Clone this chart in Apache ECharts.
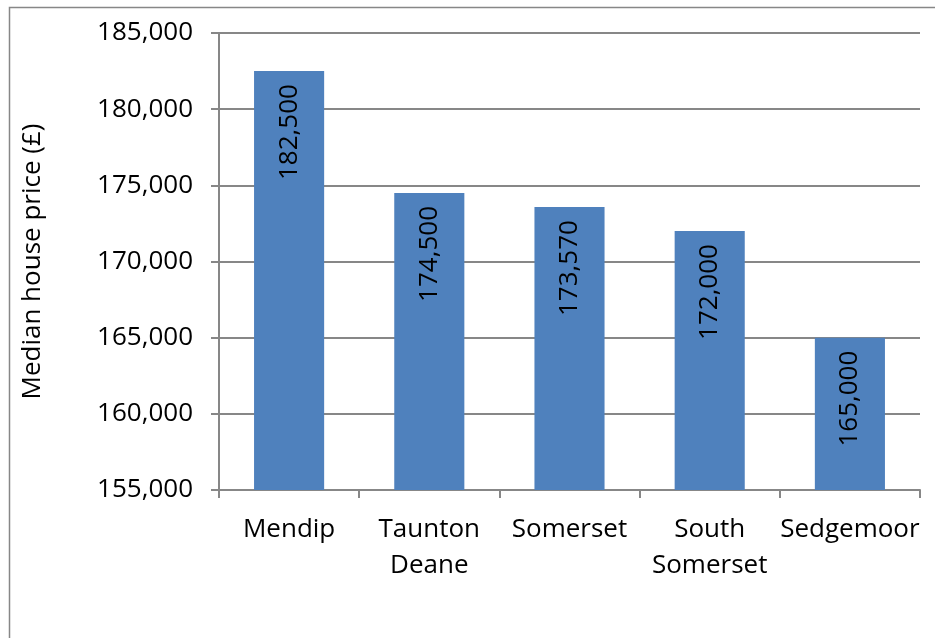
<!DOCTYPE html>
<html>
<head>
<meta charset="utf-8">
<script src="https://cdn.jsdelivr.net/npm/echarts@6/dist/echarts.min.js"></script>
<style>
  html, body { margin: 0; padding: 0; background: #fff; }
  #chart { width: 935px; height: 638px; }
</style>
</head>
<body>
<div id="chart"></div>
<script>
// Median house price by district
const categories = ['Mendip', 'Taunton\nDeane', 'Somerset', 'South\nSomerset', 'Sedgemoor'];
const prices = [182500, 174500, 173570, 172000, 165000];
const yMin = 155000;
const yMax = 185000;
const yStep = 5000;

const fmt = v => v.toLocaleString('en-GB');
const FONT = '"Open Sans", sans-serif';
const GREY = '#878787';
const SIZE = 26;

const chart = echarts.init(document.getElementById('chart'));
chart.setOption({
  animation: false,
  backgroundColor: '#ffffff',
  textStyle: { fontFamily: FONT },
  graphic: [{
    type: 'rect',
    shape: { x: 9.5, y: 7.5, width: 1000, height: 1000 },
    style: { fill: 'none', stroke: GREY, lineWidth: 1.5 },
    silent: true
  }],
  grid: { left: 219, right: 15, top: 33, bottom: 148 },
  xAxis: {
    type: 'category',
    data: categories,
    axisLine: { lineStyle: { color: GREY, width: 2 } },
    axisTick: { show: true, length: 8, alignWithLabel: false, lineStyle: { color: GREY, width: 2 } },
    axisLabel: { color: '#000', fontSize: SIZE, fontFamily: FONT, margin: 22, lineHeight: 36, interval: 0 }
  },
  yAxis: {
    type: 'value',
    min: yMin,
    max: yMax,
    interval: yStep,
    name: 'Median house price (£)',
    nameLocation: 'middle',
    nameGap: 173,
    nameRotate: 90,
    nameTextStyle: { color: '#000', fontSize: SIZE, fontFamily: FONT },
    axisLine: { show: true, lineStyle: { color: GREY, width: 2 } },
    axisTick: { show: true, length: 8, lineStyle: { color: GREY, width: 2 } },
    splitLine: { show: true, lineStyle: { color: GREY, width: 2 } },
    axisLabel: { color: '#000', fontSize: SIZE, fontFamily: FONT, margin: 26, formatter: v => fmt(v) }
  },
  series: [{
    type: 'bar',
    data: prices,
    barWidth: '50%',
    itemStyle: { color: '#4F81BD' },
    label: {
      show: true,
      position: 'insideTop',
      rotate: 90,
      align: 'right',
      verticalAlign: 'middle',
      distance: 13,
      color: '#000',
      fontSize: SIZE,
      fontFamily: FONT,
      formatter: p => fmt(p.value)
    }
  }]
});
</script>
</body>
</html>
